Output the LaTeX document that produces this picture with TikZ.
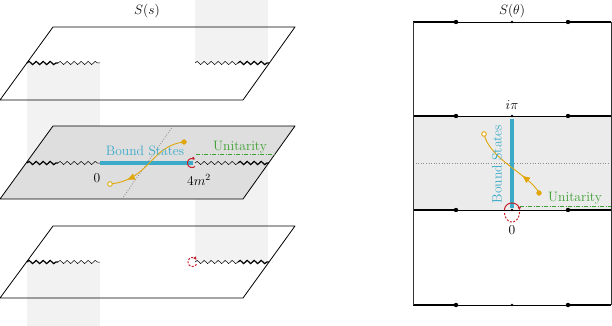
\RequirePackage{fix-cm}
\documentclass[tikz,border=0pt]{standalone}
\usetikzlibrary{decorations.pathmorphing,decorations.markings,arrows.meta}
\definecolor{bscol}{RGB}{58,170,200}
\definecolor{goldcol}{RGB}{224,166,12}
\definecolor{unitcol}{RGB}{60,160,50}
\definecolor{redcol}{RGB}{200,30,40}
\definecolor{stripcol}{RGB}{242,242,242}
\definecolor{planecol}{RGB}{222,222,222}
\definecolor{bandcol}{RGB}{235,235,235}
\tikzset{
  sheet/.style={draw=black, line width=0.8pt, line join=round},
  stripbox/.style={fill=stripcol, draw=none},
  cutthin/.style={decorate, decoration={snake, segment length=7pt, amplitude=1.6pt}, line width=0.5pt},
  cutthick/.style={decorate, decoration={snake, segment length=7pt, amplitude=1.6pt}, line width=1.2pt},
  bsline/.style={draw=bscol, line width=4pt},
  unitline/.style={draw=unitcol, line width=0.9pt, dash pattern=on 4pt off 1.5pt on 1pt off 1.5pt},
  axisline/.style={draw=black!45, line width=0.7pt, dash pattern=on 1pt off 1.6pt},
  goldpath/.style={draw=goldcol, line width=0.9pt, postaction={decorate},
     decoration={markings, mark=at position #1 with {\arrow[goldcol]{Latex[length=8pt,width=7pt]}}}},
  filldot/.style={fill=goldcol, draw=goldcol},
  hollowdot/.style={fill=white, draw=goldcol, line width=0.9pt},
  redarc/.style={draw=redcol, line width=1pt, -{Latex[length=3pt,width=3.5pt]}},
  edgethick/.style={draw=black, line width=1.6pt},
  edgethin/.style={draw=black, line width=0.6pt},
  lbl/.style={inner sep=0pt},
}
\begin{document}
\begin{tikzpicture}[x=1pt,y=-1pt,font=\fontsize{13.6}{16}\selectfont]
\useasboundingbox (0,0) rectangle (612,326);
% ---------- left panel ----------
\fill[stripbox] (195,0) rectangle (268,63);
\fill[stripbox] (27,63) rectangle (100,163);
\fill[stripbox] (195,163) rectangle (268,262);
\fill[stripbox] (27,262) rectangle (100,326);
% top sheet
\draw[sheet] (0,100) -- (243,100) -- (295,27) -- (53,27) -- cycle;
% middle sheet
\draw[sheet, fill=planecol] (0,199) -- (243,199) -- (295,126) -- (53,126) -- cycle;
% bottom sheet
\draw[sheet] (0,298) -- (243,298) -- (295,226) -- (53,226) -- cycle;
% cuts
\foreach \yy in {63,163,262}{
  \draw[cutthick] (27,\yy) -- (58,\yy);
  \draw[cutthin] (58,\yy) -- (100,\yy);
  \draw[cutthin] (195,\yy) -- (238,\yy);
  \draw[cutthick] (238,\yy) -- (269,\yy);
}
% middle sheet contents
\draw[axisline] (173,126) -- (122,199);
\draw[bsline] (100,163) -- (193,163);
\draw[unitline] (196,154) -- (275,154);
\draw[goldpath=0.8] (184,142) .. controls (150,146) and (150,180) .. (110,184);
\fill[filldot] (184,142) circle (2.4pt);
\draw[hollowdot] (110,184) circle (2.3pt);
\draw[redarc] plot[domain=310:50,samples=30] ({192+4.5*cos(\x)},{163-4.5*sin(\x)});
\draw[redarc, dash pattern=on 2pt off 1.5pt] plot[domain=330:30,samples=30] ({192.5+4.5*cos(\x)},{262-4.5*sin(\x)});
% labels
\node[lbl] (ts) at (147,11) {$S(s)$};
\node[lbl, text=bscol] (bsl) at (145,151) {Bound States};
\node[lbl, text=unitcol] (ul) at (240,147) {Unitarity};
\node[lbl] (zl) at (97,178) {$0$};
\node[lbl] (fm) at (199,180) {$4m^2$};
% ---------- right panel ----------
\fill[bandcol] (413,116) rectangle (611,210);
\draw[axisline] (413,163) -- (611,163);
\draw[bsline, line width=4.5pt] (512,118.5) -- (512,207.5);
\draw[unitline] (520,206) -- (611,206);
\draw[goldpath=0.3] (539,193) .. controls (530,175) and (490,160) .. (484,134);
\fill[filldot] (539,193) circle (2.4pt);
\draw[hollowdot] (484,134) circle (2.3pt);
\foreach \yy in {22,116,210,305}{
  \draw[edgethick] (413,\yy) -- (456,\yy);
  \draw[edgethin] (456,\yy) -- (568,\yy);
  \draw[edgethick] (568,\yy) -- (611,\yy);
  \fill (456,\yy) circle (2.2pt);
  \fill (568,\yy) circle (2.2pt);
  \fill (512,\yy) circle (1.4pt);
}
\draw[draw=black!80, line width=0.9pt] (413,22) -- (413,305);
\draw[draw=black!80, line width=0.9pt] (611,22) -- (611,305);
\draw[redarc] plot[domain=180:0,samples=30] ({512+7.5*cos(\x)},{210-7*sin(\x)});
\draw[draw=redcol, line width=1pt, dash pattern=on 2pt off 1.5pt] plot[domain=0:-180,samples=30] ({512+7.5*cos(\x)},{212-10*sin(\x)});
\node[lbl] (tt) at (512,11) {$S(\theta)$};
\node[lbl, text=bscol, rotate=90] (bsr) at (497,164) {Bound States};
\node[lbl, text=unitcol] (ur) at (575,198) {Unitarity};
\node[lbl] (ipi) at (512,105) {$i\pi$};
\node[lbl] (zr) at (512,230) {$0$};
\end{tikzpicture}
\end{document}
